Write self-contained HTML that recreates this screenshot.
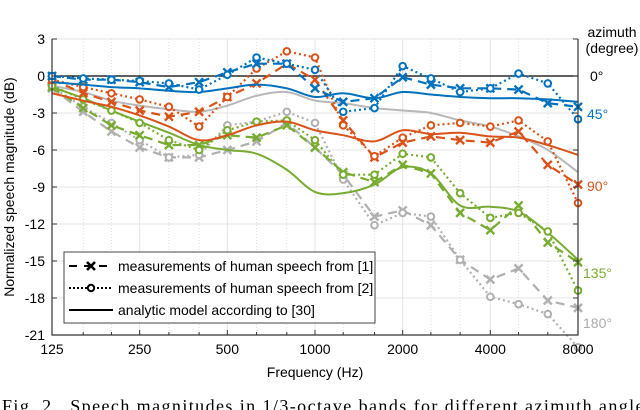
<!DOCTYPE html>
<html><head><meta charset="utf-8"><style>
body{margin:0;background:#fff;}
svg{display:block;font-family:"Liberation Sans",sans-serif;}
</style></head><body>
<svg id="chart" width="640" height="410" viewBox="0 0 640 410" xmlns="http://www.w3.org/2000/svg">
<g id="grid"></g>
<line x1="52" y1="76" x2="578" y2="76" stroke="#000" stroke-width="1.2"/>
<g id="series"></g>
<g id="axes"></g>
<text transform="translate(14,187) rotate(-90)" text-anchor="middle" font-size="14">Normalized speech magnitude (dB)</text>
<text x="315" y="377" text-anchor="middle" font-size="14">Frequency (Hz)</text>
<text x="612" y="37" text-anchor="middle" font-size="14">azimuth</text>
<text x="612" y="53" text-anchor="middle" font-size="14">(degree)</text>
<text x="590" y="81" font-size="14" fill="#000">0°</text>
<text x="587" y="119" font-size="14" fill="#0072BD">45°</text>
<text x="587" y="191" font-size="14" fill="#D95319">90°</text>
<text x="583" y="278" font-size="14" fill="#77AC30">135°</text>
<text x="583" y="328" font-size="14" fill="#AAAAAA">180°</text>
<g>
<rect x="64" y="252" width="311" height="71" fill="#fff" stroke="#444" stroke-width="1"/>
<g>
<line x1="69" y1="266" x2="113" y2="266" stroke="#000" stroke-width="2" stroke-dasharray="8,7"/>
<path d="M87,262 L95,270 M95,262 L87,270" stroke="#000" stroke-width="2.6"/>
<text x="118" y="271" font-size="14">measurements of human speech from [1]</text></g>
<g>
<line x1="69" y1="288" x2="113" y2="288" stroke="#000" stroke-width="2" stroke-dasharray="2,2"/>
<circle cx="91" cy="288" r="3.2" fill="#fff" stroke="#000" stroke-width="2"/>
<text x="118" y="293" font-size="14">measurements of human speech from [2]</text></g>
<g>
<line x1="69" y1="310" x2="113" y2="310" stroke="#000" stroke-width="2"/>
<text x="118" y="315" font-size="14">analytic model according to [30]</text></g>
</g>
<text x="2" y="412" font-family="Liberation Serif,serif" font-size="18" textLength="650" lengthAdjust="spacing" xml:space="preserve">Fig. 2.  Speech magnitudes in 1/3-octave bands for different azimuth angles</text>
</svg>
<script>
const freqs=[125,160,200,250,315,400,500,630,800,1000,1250,1600,2000,2500,3150,4000,5000,6300,8000];
const xTicks=[125,250,500,1000,2000,4000,8000];
const yTicks=[3,0,-3,-6,-9,-12,-15,-18,-21];
const blueMeas1=[0,-0.3,-0.3,-0.5,-0.9,-0.5,0.3,1.0,1.0,-1.0,-2.1,-1.8,-0.1,-0.7,-1.0,-1.0,-1.1,-2.2,-2.5];
const blueMeas2=[0,-0.2,-0.3,-0.4,-0.6,-1.1,0.1,1.5,1.0,0.5,-2.9,-2.6,0.8,-0.2,-1.3,-1.0,0.2,-0.6,-3.5];
const blueModel=[-0.5,-0.7,-0.9,-1.0,-1.2,-1.3,-1.0,-0.7,-1.0,-1.7,-1.4,-1.8,-1.3,-1.5,-1.7,-1.8,-1.8,-1.9,-2.1];
const orangeMeas1=[-0.3,-1.4,-2.1,-2.8,-3.3,-2.9,-1.7,-0.6,1.0,-0.3,-3.6,-6.6,-5.4,-4.9,-5.2,-5.4,-4.5,-7.2,-8.8];
const orangeMeas2=[-0.3,-0.9,-1.4,-1.9,-2.5,-4.1,-1.7,0.6,2.0,1.5,-4.0,-6.5,-5.0,-4.0,-3.8,-4.1,-3.6,-5.3,-10.3];
const orangeModel=[-1.4,-2.0,-2.5,-3.2,-4.1,-5.2,-4.8,-4.0,-3.7,-4.4,-4.8,-5.3,-4.4,-4.7,-4.6,-4.9,-5.0,-5.6,-6.4];
const greenMeas1=[-0.9,-2.6,-4.0,-4.8,-5.6,-5.6,-4.8,-5.0,-4.0,-5.8,-7.8,-8.6,-7.2,-7.9,-11.1,-12.5,-10.5,-13.5,-15.1];
const greenMeas2=[-0.8,-1.9,-2.8,-3.8,-5.2,-6.0,-4.4,-3.7,-3.6,-5.2,-8.0,-8.0,-6.3,-6.6,-9.5,-11.5,-11.1,-12.6,-17.4];
const greenModel=[-0.9,-1.8,-2.8,-3.7,-4.6,-5.6,-6.0,-6.3,-7.6,-9.4,-9.5,-8.8,-7.4,-7.9,-10.5,-10.6,-11.0,-12.7,-14.9];
const grayMeas1=[-1.0,-2.9,-4.5,-5.8,-6.6,-6.6,-6.0,-5.3,-3.8,-5.8,-8.0,-11.4,-10.9,-12.1,-14.9,-16.5,-15.6,-18.2,-18.8];
const grayMeas2=[-0.9,-2.5,-3.8,-5.2,-6.6,-6.4,-4.0,-3.7,-2.9,-3.8,-8.4,-12.1,-11.1,-11.4,-14.9,-17.9,-18.5,-19.3,-22.0];
const grayModel=[-0.8,-1.3,-2.0,-2.4,-2.7,-2.9,-2.4,-1.6,-1.3,-2.0,-2.2,-2.6,-2.8,-3.0,-3.6,-4.1,-4.9,-6.0,-7.8];

const X0=52,X1=578,Y0=39,Y1=335;
const xs=f=>X0+(Math.log2(f/125)/6)*(X1-X0);
const ys=v=>Y0+(3-v)/24*(Y1-Y0);
const NS="http://www.w3.org/2000/svg";
function mk(tag,attrs,parent){const e=document.createElementNS(NS,tag);for(const k in attrs)e.setAttribute(k,attrs[k]);parent.appendChild(e);return e;}
const grid=document.getElementById('grid'),axes=document.getElementById('axes'),series=document.getElementById('series');
freqs.forEach(f=>{if(xTicks.includes(f))return;const l=mk('line',{x1:xs(f),x2:xs(f),y1:Y0,y2:Y1,stroke:'#ddd','stroke-width':1,'stroke-dasharray':'1,2'},grid);

});
xTicks.forEach(f=>{const l=mk('line',{x1:xs(f),x2:xs(f),y1:Y0,y2:Y1,stroke:'#e4e4e4','stroke-width':1},grid);


const t=mk('text',{x:xs(f),y:Y1+19,'text-anchor':'middle','font-size':14},axes);t.textContent=f;


const tk=mk('line',{x1:xs(f),x2:xs(f),y1:Y1,y2:Y1-5,stroke:'#333'},axes);

});
freqs.forEach(f=>{if(xTicks.includes(f))return;const tk=mk('line',{x1:xs(f),x2:xs(f),y1:Y1,y2:Y1-3,stroke:'#333'},axes);

});
yTicks.forEach(v=>{const l=mk('line',{x1:X0,x2:X1,y1:ys(v),y2:ys(v),stroke:'#e4e4e4'},grid);


const t=mk('text',{x:X0-7,y:ys(v)+5,'text-anchor':'end','font-size':14},axes);t.textContent=v;


[[X0,X0+5],[X1,X1-5]].forEach(p=>{const tk=mk('line',{x1:p[0],x2:p[1],y1:ys(v),y2:ys(v),stroke:'#333'},axes);

});});
const la=mk('path',{d:`M${X0},${Y0} V${Y1} H${X1} V${Y0}`,fill:'none',stroke:'#333','stroke-width':1.2},axes);



function smooth(pts){let d=`M${pts[0][0]},${pts[0][1]}`;for(let i=0;i<pts.length-1;i++){const p0=pts[Math.max(i-1,0)],p1=pts[i],p2=pts[i+1],p3=pts[Math.min(i+2,pts.length-1)];
d+=` C${p1[0]+(p2[0]-p0[0])/6},${p1[1]+(p2[1]-p0[1])/6} ${p2[0]-(p3[0]-p1[0])/6},${p2[1]-(p3[1]-p1[1])/6} ${p2[0]},${p2[1]}`;}return d;}
function draw(vals,color,kind,name){
const g=mk('g',{},series);


const pts=vals.map((v,i)=>[xs(freqs[i]),ys(v)]);
if(kind==='model'){mk('path',{d:smooth(pts),fill:'none',stroke:color,'stroke-width':2},g);return;}
const d='M'+pts.map(p=>p.join(',')).join(' L');
mk('path',{d:d,fill:'none',stroke:color,'stroke-width':2.2,'stroke-dasharray':kind==='x'?'9,6':'2,3'},g);
pts.forEach(p=>{let m;
if(kind==='x'){m=mk('path',{d:`M${p[0]-4},${p[1]-4} L${p[0]+4},${p[1]+4} M${p[0]+4},${p[1]-4} L${p[0]-4},${p[1]+4}`,stroke:color,'stroke-width':2.4},g);}
else{m=mk('circle',{cx:p[0],cy:p[1],r:3.3,fill:'#fff',stroke:color,'stroke-width':2},g);}

});}
const GR='#B0B0B0',GN='#77AC30',OR='#D95319',BL='#0072BD';
draw(grayModel,'#b8b8b8','model','gray-180-model');
draw(grayMeas1,GR,'x','gray-180-meas-1');
draw(grayMeas2,GR,'o','gray-180-meas-2');
draw(greenModel,GN,'model','green-135-model');
draw(greenMeas1,GN,'x','green-135-meas-1');
draw(greenMeas2,GN,'o','green-135-meas-2');
draw(orangeModel,OR,'model','orange-90-model');
draw(orangeMeas1,OR,'x','orange-90-meas-1');
draw(orangeMeas2,OR,'o','orange-90-meas-2');
draw(blueModel,BL,'model','blue-45-model');
draw(blueMeas1,BL,'x','blue-45-meas-1');
draw(blueMeas2,BL,'o','blue-45-meas-2');
</script>
</body></html>
